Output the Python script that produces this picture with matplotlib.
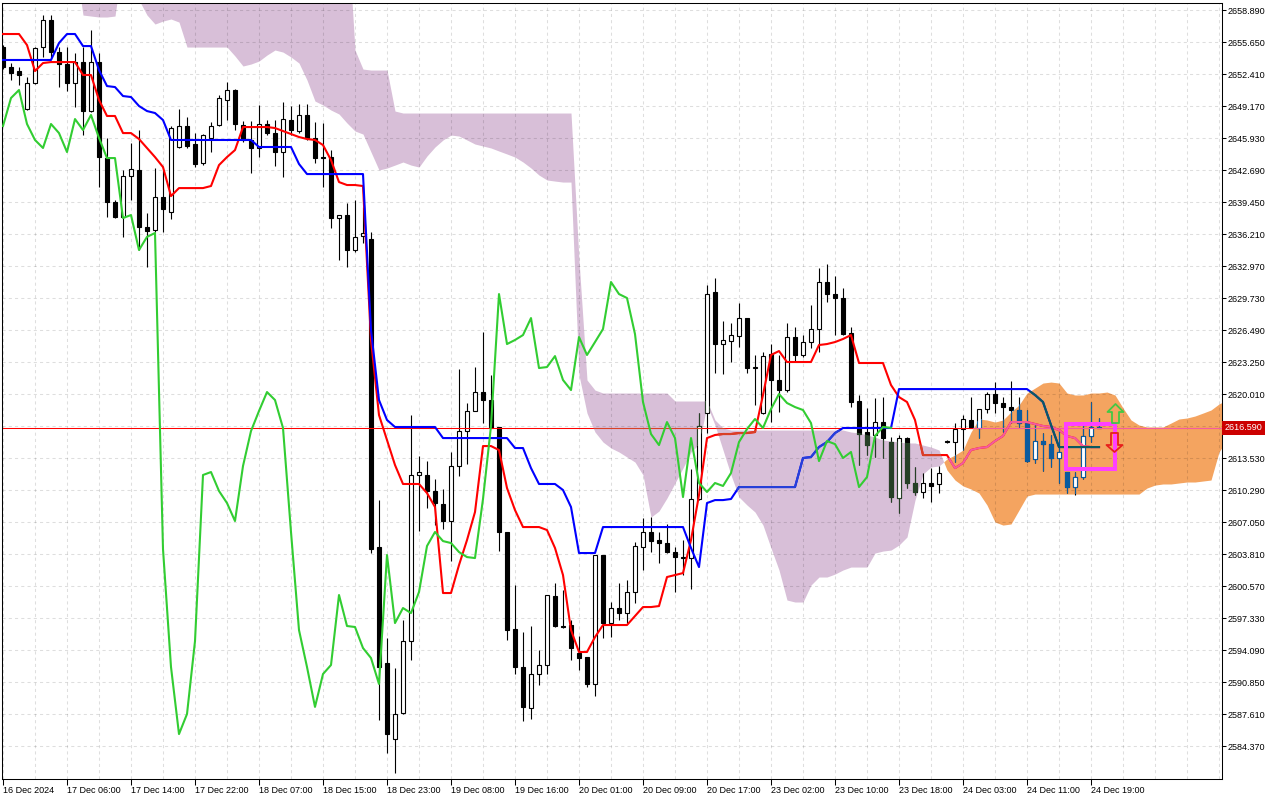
import numpy as np
import matplotlib
matplotlib.use("Agg")
import matplotlib.pyplot as plt
from matplotlib.path import Path
from matplotlib.patches import Rectangle

plt.rcParams['font.family'] = ['Liberation Sans', 'DejaVu Sans']

# XAUUSD H1, one entry per bar
opens = [2655.14, 2653.12, 2652.71, 2648.86, 2651.50, 2655.14, 2657.88, 2654.64, 2653.42, 2651.50,
         2653.62, 2648.66, 2653.62, 2643.90, 2639.45, 2637.93, 2642.08, 2642.69, 2636.92, 2636.61,
         2639.95, 2638.44, 2645.02, 2647.14, 2645.32, 2643.40, 2645.93, 2647.24, 2649.78, 2650.79,
         2647.24, 2645.73, 2644.92, 2647.35, 2646.43, 2644.51, 2647.75, 2646.64, 2648.26, 2645.93,
         2644.00, 2644.00, 2637.83, 2638.13, 2634.59, 2636.01, 2635.70, 2604.52, 2592.78, 2585.08,
         2587.71, 2594.99, 2611.81, 2611.81, 2610.19, 2608.87, 2607.15, 2612.72, 2616.26, 2618.29,
         2620.21, 2619.40, 2616.67, 2606.04, 2596.21, 2592.37, 2588.23, 2591.66, 2592.57, 2599.55,
         2596.52, 2596.62, 2593.79, 2593.38, 2590.65, 2603.71, 2596.82, 2598.34, 2597.83, 2599.96,
         2604.52, 2606.04, 2605.22, 2604.92, 2604.01, 2603.50, 2603.40, 2609.38, 2618.08, 2630.33,
         2625.07, 2625.37, 2625.88, 2627.70, 2622.64, 2618.08, 2624.06, 2621.43, 2620.41, 2625.78,
         2623.96, 2625.27, 2626.59, 2631.35, 2630.13, 2629.73, 2626.18, 2619.30, 2616.16, 2615.86,
         2617.17, 2615.15, 2609.48, 2615.55, 2611.00, 2610.09, 2611.00, 2610.89, 2615.25, 2615.15,
         2616.46, 2617.38, 2616.57, 2618.49, 2620.01, 2619.10, 2618.69, 2618.39, 2617.07, 2613.43,
         2615.25, 2614.94, 2613.53, 2612.11, 2610.59, 2611.60, 2615.76, 2616.67]
highs = [2655.34, 2653.52, 2653.12, 2652.10, 2655.14, 2658.38, 2658.38, 2655.14, 2655.14, 2654.53,
         2655.14, 2656.86, 2654.53, 2645.93, 2639.65, 2642.69, 2645.42, 2646.74, 2638.33, 2642.89,
         2642.69, 2647.14, 2648.86, 2648.05, 2646.43, 2646.33, 2647.55, 2650.28, 2651.60, 2650.89,
         2647.65, 2647.65, 2649.27, 2647.75, 2647.75, 2649.57, 2649.17, 2649.37, 2649.37, 2647.55,
         2647.45, 2644.71, 2638.13, 2639.36, 2639.65, 2638.94, 2636.41, 2609.27, 2595.30, 2592.26,
         2597.12, 2617.88, 2613.73, 2613.22, 2611.40, 2610.39, 2614.14, 2622.54, 2619.10, 2622.74,
         2626.28, 2621.93, 2616.67, 2606.04, 2600.67, 2595.91, 2596.52, 2594.09, 2599.66, 2600.87,
         2600.16, 2597.12, 2595.51, 2593.38, 2603.71, 2603.71, 2598.95, 2600.87, 2601.18, 2605.02,
         2607.45, 2607.55, 2606.04, 2606.84, 2604.52, 2605.22, 2612.41, 2618.08, 2631.04, 2631.75,
         2627.40, 2627.20, 2629.22, 2627.70, 2623.96, 2624.26, 2625.07, 2623.96, 2627.20, 2626.79,
         2625.98, 2629.02, 2632.77, 2633.17, 2631.96, 2630.74, 2626.79, 2619.91, 2618.59, 2619.60,
         2619.70, 2615.65, 2615.86, 2615.65, 2612.62, 2612.01, 2612.52, 2612.72, 2615.35, 2617.07,
         2617.88, 2619.70, 2618.49, 2620.21, 2621.22, 2619.70, 2621.32, 2619.70, 2618.39, 2617.07,
         2616.06, 2615.86, 2616.57, 2612.11, 2612.11, 2616.87, 2619.20, 2617.58]
lows = [2652.91, 2651.80, 2651.29, 2648.76, 2651.40, 2654.13, 2654.03, 2651.09, 2650.69, 2649.07,
        2646.23, 2648.56, 2640.97, 2637.93, 2637.83, 2635.90, 2639.65, 2634.59, 2632.87, 2636.41,
        2636.41, 2637.73, 2644.92, 2644.92, 2642.99, 2643.19, 2644.51, 2647.14, 2647.75, 2646.74,
        2645.52, 2642.38, 2644.00, 2646.23, 2643.09, 2641.98, 2646.23, 2646.43, 2645.73, 2643.40,
        2640.97, 2636.81, 2633.58, 2632.87, 2634.40, 2635.30, 2603.91, 2586.99, 2583.66, 2581.63,
        2587.61, 2593.08, 2606.14, 2608.47, 2606.74, 2606.34, 2603.10, 2611.71, 2612.92, 2618.29,
        2617.07, 2616.57, 2604.11, 2595.10, 2591.66, 2586.90, 2587.10, 2590.54, 2591.66, 2596.42,
        2596.31, 2593.08, 2592.06, 2590.34, 2589.43, 2595.30, 2595.40, 2597.12, 2596.82, 2598.85,
        2602.19, 2604.01, 2602.90, 2603.91, 2599.96, 2601.68, 2600.26, 2609.27, 2616.06, 2622.13,
        2622.03, 2623.25, 2624.77, 2622.13, 2618.91, 2617.98, 2617.17, 2618.19, 2620.21, 2623.25,
        2623.75, 2624.67, 2624.26, 2629.32, 2625.98, 2625.98, 2618.69, 2612.82, 2613.83, 2613.63,
        2613.53, 2609.07, 2607.97, 2610.49, 2609.78, 2609.48, 2609.07, 2609.98, 2615.05, 2613.12,
        2614.34, 2616.57, 2615.55, 2618.08, 2618.08, 2616.16, 2617.07, 2616.67, 2613.12, 2613.02,
        2612.21, 2612.62, 2611.00, 2609.98, 2609.78, 2611.40, 2615.15, 2616.57]
closes = [2653.12, 2652.51, 2652.31, 2651.50, 2655.04, 2657.88, 2654.64, 2653.42, 2651.50, 2653.62,
          2648.66, 2653.62, 2644.00, 2639.45, 2637.93, 2642.08, 2642.79, 2636.92, 2636.51, 2639.95,
          2638.74, 2646.94, 2647.14, 2645.12, 2643.30, 2646.23, 2647.14, 2649.98, 2650.79, 2647.35,
          2645.73, 2644.92, 2647.35, 2646.43, 2644.51, 2647.85, 2646.74, 2648.26, 2645.93, 2643.90,
          2643.90, 2637.83, 2638.13, 2634.59, 2635.92, 2636.31, 2604.31, 2592.37, 2585.58, 2587.61,
          2594.99, 2611.81, 2612.11, 2610.19, 2608.97, 2607.15, 2612.72, 2616.26, 2618.29, 2620.21,
          2619.40, 2616.57, 2606.04, 2596.11, 2592.37, 2588.33, 2591.66, 2592.57, 2599.66, 2596.52,
          2596.42, 2594.29, 2593.28, 2590.65, 2603.71, 2596.82, 2598.34, 2597.83, 2599.96, 2604.62,
          2606.04, 2605.12, 2604.92, 2604.01, 2603.50, 2603.40, 2609.38, 2616.77, 2630.13, 2625.07,
          2625.48, 2625.98, 2627.70, 2622.64, 2622.74, 2623.85, 2621.43, 2620.41, 2625.78, 2623.96,
          2625.27, 2626.59, 2631.35, 2630.13, 2629.73, 2626.08, 2619.20, 2615.96, 2614.84, 2617.17,
          2615.55, 2609.58, 2615.55, 2611.00, 2610.09, 2611.00, 2610.70, 2612.01, 2615.15, 2616.46,
          2617.48, 2616.57, 2618.49, 2620.01, 2619.10, 2618.69, 2618.39, 2617.07, 2613.22, 2615.25,
          2614.94, 2613.53, 2614.14, 2610.59, 2611.60, 2615.76, 2616.67, 2616.59]

# ichimoku lines
tenkan = [2656.46, 2656.46, 2656.46, 2655.34, 2652.71, 2653.52, 2653.62, 2653.62, 2653.62, 2653.62,
          2652.31, 2652.31, 2649.78, 2648.16, 2648.16, 2646.43, 2646.43, 2645.83, 2644.92, 2644.00,
          2642.99, 2640.05, 2640.86, 2640.86, 2640.86, 2640.86, 2641.07, 2643.19, 2644.00, 2644.71,
          2647.04, 2647.04, 2647.04, 2647.04, 2646.94, 2646.64, 2646.33, 2646.03, 2645.83, 2645.73,
          2645.22, 2643.70, 2641.47, 2641.17, 2641.17, 2641.07, 2625.48, 2617.88, 2615.35, 2612.82,
          2610.90, 2610.90, 2610.90, 2609.98, 2608.57, 2599.86, 2599.86, 2602.69, 2605.22, 2608.06,
          2614.74, 2614.74, 2614.34, 2610.49, 2608.26, 2606.54, 2606.54, 2606.54, 2606.24, 2604.42,
          2601.68, 2596.11, 2593.89, 2593.89, 2595.40, 2596.62, 2596.62, 2596.62, 2596.62, 2597.53,
          2598.44, 2598.44, 2598.54, 2601.48, 2601.68, 2601.88, 2605.22, 2609.78, 2615.55, 2615.86,
          2615.96, 2615.96, 2616.06, 2616.06, 2616.16, 2619.91, 2623.96, 2624.36, 2623.25, 2623.25,
          2623.25, 2623.25, 2624.97, 2625.07, 2625.27, 2625.58, 2625.98, 2623.15, 2623.15, 2623.15,
          2623.15, 2620.92, 2619.70, 2619.20, 2617.38, 2613.83, 2613.83, 2613.83, 2613.83, 2612.51,
          2613.02, 2614.34, 2614.54, 2614.64, 2615.25, 2615.76, 2617.17, 2617.17, 2617.17, 2616.97,
          2616.77, 2616.67, 2616.36, 2615.76, 2615.55, 2614.74, 2614.64, 2614.64]
kijun = ([2653.83] * 7
         + [2655.55, 2656.46, 2656.46, 2655.24, 2655.24, 2652.81, 2651.19, 2651.09, 2650.18, 2650.08,
            2649.17, 2648.66, 2648.46, 2647.75]
         + [2645.73] * 11 + [2645.02] * 5 + [2643.30] + [2642.28] * 8
         + [2626.49, 2619.40, 2617.38] + [2616.67] * 6 + [2615.55] * 9 + [2614.54] * 2
         + [2612.51] + [2610.90] * 3 + [2610.29, 2608.57] + [2603.91] * 3 + [2606.54] * 11
         + [2604.42, 2602.49, 2608.97, 2609.27, 2609.27, 2609.38] + [2610.59] * 8
         + [2613.53, 2613.63, 2614.64, 2615.15, 2616.06] + [2616.57] * 7 + [2620.51] * 17
         + [2619.91, 2619.20, 2616.87] + [2614.64] * 6)

# senkou spans (already shifted 26 bars ahead); 2664/2668 = above the visible range
span_a = ([2664.0] * 10
          + [2658.38, 2658.28, 2658.18, 2658.18, 2658.28, 2664.0, 2664.0, 2659.90, 2658.38, 2657.47,
             2657.77, 2657.98, 2657.67]
          + [2655.14] * 6
          + [2654.23, 2653.22, 2653.42, 2653.72, 2654.33, 2654.84, 2654.63, 2654.13, 2653.52, 2651.80,
             2649.67, 2649.27, 2648.76, 2648.36, 2647.45, 2646.64, 2646.33, 2644.51, 2642.69, 2642.89,
             2643.19, 2643.50, 2643.19, 2642.99, 2644.11, 2645.02, 2645.73, 2646.23, 2646.13, 2645.73,
             2645.32, 2645.12, 2644.92, 2644.61, 2644.31, 2644.00, 2643.50, 2642.89, 2642.18, 2641.68,
             2641.57, 2641.47, 2641.47,
             2621.93, 2618.08, 2616.16, 2615.15, 2614.54, 2614.14, 2613.63, 2613.12, 2611.81, 2607.55,
             2608.16, 2609.48, 2611.00, 2612.52, 2614.14, 2614.94, 2618.89, 2616.87, 2614.34, 2611.81,
             2609.58, 2608.77, 2608.06, 2606.74, 2604.42, 2602.19, 2599.15, 2598.95, 2598.95, 2600.67,
             2601.48, 2601.48, 2601.78, 2602.19, 2602.49, 2602.49, 2602.49, 2603.91, 2604.11, 2604.21,
             2604.72, 2605.53, 2609.27, 2611.91, 2612.62, 2612.72,
             2613.43, 2613.83, 2614.34, 2616.16, 2617.48, 2617.38, 2617.17, 2617.38, 2618.19, 2618.89,
             2620.11, 2620.61, 2621.12, 2621.22, 2621.12, 2620.11, 2619.91, 2619.91, 2620.11, 2620.11,
             2620.21, 2619.91, 2618.59, 2617.38, 2616.87, 2616.67, 2616.67, 2616.67, 2617.07, 2617.48,
             2617.58, 2617.78, 2618.08, 2618.39, 2619.00, 2619.40])
span_b = ([2668.0] * 44
          + [2654.84, 2652.91, 2652.81, 2652.81, 2652.81, 2648.66]
          + [2648.46] * 22
          + [2633.58, 2621.43, 2620.41]
          + [2620.11] * 9 + [2619.30] * 5 + [2617.38, 2616.57] + [2616.36] * 15
          + [2616.16, 2616.06, 2615.86, 2615.65, 2615.35, 2615.25, 2615.15, 2615.05, 2615.05, 2614.84,
             2614.64, 2614.34,
             2612.31, 2611.30, 2610.70, 2610.39, 2609.98, 2608.77, 2607.05, 2606.74, 2606.85, 2608.26,
             2609.68]
          + [2609.88] * 14
          + [2610.49, 2610.79, 2610.90, 2610.90, 2611.00, 2611.10, 2611.10, 2611.20, 2611.30, 2614.14,
             2615.35])

date_labels = ['16 Dec 2024', '17 Dec 06:00', '17 Dec 14:00', '17 Dec 22:00', '18 Dec 07:00',
               '18 Dec 15:00', '18 Dec 23:00', '19 Dec 08:00', '19 Dec 16:00', '20 Dec 01:00',
               '20 Dec 09:00', '20 Dec 17:00', '23 Dec 02:00', '23 Dec 10:00', '23 Dec 18:00',
               '24 Dec 03:00', '24 Dec 11:00', '24 Dec 19:00']
price_ticks = [2658.89 - 3.24 * k for k in range(24)]
last_price = 2616.59

# signal box and arrows (bar index / price)
box_bars = (132.9, 139.0)
box_prices = (2612.41, 2616.97)
up_arrow = (139.0, 2618.13)
down_arrow = (138.9, 2615.20)

THISTLE = '#d8bfd8'
SANDY = '#f4a460'


def rgb(h):
    return tuple(int(h[i:i + 2], 16) for i in (1, 3, 5))


def xor(col, mask):
    # MT4 paints the kumo in xor mode, so whatever sits under it changes colour
    return '#%02x%02x%02x' % tuple(a ^ b for a, b in zip(rgb(col), mask))


fig = plt.figure(figsize=(12.8, 8), dpi=100)
ax = fig.add_axes([2 / 1280, 21 / 800, 1220 / 1280, 776 / 800])
ax.set_xlim(-0.125, 152.375)
ax.set_ylim(2581.03, 2659.60)

# cloud
xc = np.arange(len(span_a))
sa = np.array(span_a)
sb = np.array(span_b)
kumo_b = ax.fill_between(xc, sa, sb, where=sb >= sa, interpolate=True, color=THISTLE, lw=0, zorder=1)
kumo_a = ax.fill_between(xc, sa, sb, where=sa > sb, interpolate=True, color=SANDY, lw=0, zorder=1)
clips = []
for coll, col in ((kumo_b, THISTLE), (kumo_a, SANDY)):
    clips.append((Path.make_compound_path(*coll.get_paths()), tuple(255 ^ v for v in rgb(col))))

# grid
for yv in price_ticks:
    ax.axhline(yv, color='k', alpha=0.13, lw=0.75, ls=(0, (3, 3)), zorder=1.5)
for xv in range(0, 153, 4):
    ax.axvline(xv, color='k', alpha=0.13, lw=0.75, ls=(0, (3, 3)), zorder=1.5)

x = np.arange(len(opens))
o, h, l, c = map(np.array, (opens, highs, lows, closes))
bear = c < o


def candles(edge, bear_fill, z, clip=None):
    wick = ax.vlines(x, l, h, colors=edge, lw=0.8, zorder=z)
    body = ax.bar(x, np.abs(c - o), width=0.55, bottom=np.minimum(o, c),
                  color=np.where(bear, bear_fill, 'white'), edgecolor=edge,
                  linewidth=0.8, zorder=z + 0.05)
    if clip is not None:
        for a in [wick] + list(body.patches):
            a.set_clip_path(clip, ax.transData)


def line(y, col, z, lw=1.5, clip=None):
    ln, = ax.plot(np.arange(len(y)), y, color=col, lw=lw, zorder=z)
    if clip is not None:
        ln.set_clip_path(clip, ax.transData)


def hline(col, z, clip=None):
    ln = ax.axhline(last_price, color=col, lw=0.75, zorder=z)
    if clip is not None:
        ln.set_clip_path(clip, ax.transData)


candles('black', 'black', 2)
for p, m in clips:
    candles(xor('#000000', m), xor('#000000', m), 2.01, p)

hline('#ff0000', 2.5)
for p, m in clips:
    hline(xor('#ff0000', m), 2.51, p)

line(tenkan, '#ff0000', 3)
for p, m in clips:
    line(tenkan, xor('#ff0000', m), 3.01, clip=p)
line(kijun, '#0000ff', 3.2)
for p, m in clips:
    line(kijun, xor('#0000ff', m), 3.21, clip=p)

# chikou = close shifted back 26 bars
ax.plot(x[:len(closes) - 26], closes[26:], color='#32cd32', lw=1.5, zorder=4)

# signal box and arrows
ax.add_patch(Rectangle((box_bars[0], box_prices[0]), box_bars[1] - box_bars[0],
                       box_prices[1] - box_prices[0], fill=False, ec='#ff40ff', lw=2.9,
                       joinstyle='miter', zorder=8))
up_path = Path([(0, 9.5), (8, 1.5), (3.5, 1.5), (3.5, -9.5), (-3.5, -9.5), (-3.5, 1.5),
                (-8, 1.5), (0, 9.5)], closed=True)
down_path = Path([(0, -9.5), (8, -2.5), (3.5, -2.5), (3.5, 9.5), (-3.5, 9.5), (-3.5, -2.5),
                  (-8, -2.5), (0, -9.5)], closed=True)
ax.plot([up_arrow[0]], [up_arrow[1]], marker=up_path, ms=13.7, mfc='none', mec='#44c844',
        mew=1.3, zorder=9)
ax.plot([down_arrow[0]], [down_arrow[1]], marker=down_path, ms=13.7, mfc='none', mec='#e8201c',
        mew=1.3, zorder=9)

# axes; the tick under the bid tag is covered by it, so leave its label empty
ax.yaxis.tick_right()
ax.set_yticks(price_ticks)
ax.set_yticklabels(['' if abs(p - last_price) < 1 else '%.3f' % p for p in price_ticks])
ax.set_xticks(np.arange(0, 8 * len(date_labels), 8))
ax.set_xticklabels(date_labels, ha='left')
ax.tick_params(axis='both', labelsize=6.5, width=0.75, color='black', direction='out')
ax.tick_params(axis='x', length=4, pad=1)
ax.tick_params(axis='y', length=3, pad=1.2)
for s in ax.spines.values():
    s.set_linewidth(0.75)
    s.set_color('black')

ax.annotate('%.3f' % last_price, xy=(1, last_price), xycoords=('axes fraction', 'data'),
            xytext=(2, 0), textcoords='offset points', va='center', ha='left', color='white',
            fontsize=6.5, bbox=dict(boxstyle='square,pad=0.3', fc='#cc0000', ec='none'),
            zorder=10, annotation_clip=False)

fig.savefig('out.png', dpi=100)
